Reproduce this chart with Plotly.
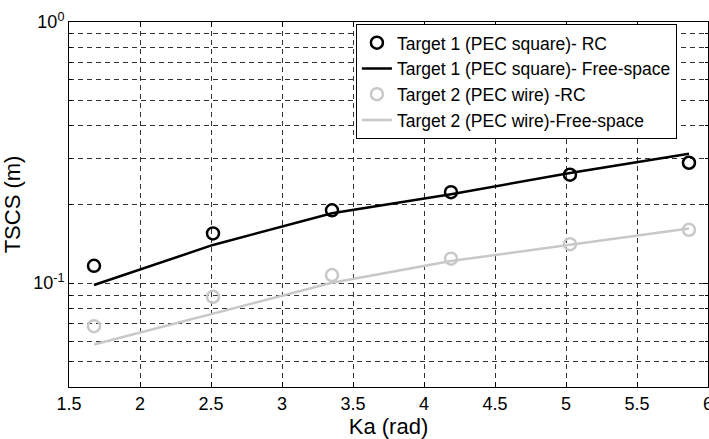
import plotly.graph_objects as go

ka = [1.676, 2.514, 3.352, 4.19, 5.028, 5.866]
t1_rc = [0.1165, 0.155, 0.190, 0.223, 0.260, 0.289]
t1_fs = [0.0983, 0.140, 0.185, 0.219, 0.264, 0.313]
t2_rc = [0.0684, 0.0886, 0.1073, 0.124, 0.141, 0.160]
t2_fs = [0.0582, 0.0765, 0.1003, 0.1214, 0.140, 0.162]

names = ["Target 1 (PEC square)- RC", "Target 1 (PEC square)- Free-space",
         "Target 2 (PEC wire) -RC", "Target 2 (PEC wire)-Free-space"]

x_ticks = [1.5, 2, 2.5, 3, 3.5, 4, 4.5, 5, 5.5, 6]
y_ticks = [0.1, 1.0]
y_text = ["10<sup>-1</sup>", "10<sup>0</sup>"]
y_minor = [0.05, 0.06, 0.07, 0.08, 0.09, 0.2, 0.3, 0.4, 0.5, 0.6, 0.7, 0.8, 0.9]

BLACK = "#000000"
GRAY = "#c8c8c8"
GRID = "#333333"
FONT = "Liberation Sans, Arial, sans-serif"

fig = go.Figure()
fig.add_trace(go.Scatter(x=ka, y=t1_rc, mode="markers", name=names[0],
                         marker=dict(symbol="circle-open", size=12, color=BLACK, line=dict(width=2.5, color=BLACK))))
fig.add_trace(go.Scatter(x=ka, y=t1_fs, mode="lines", name=names[1],
                         line=dict(color=BLACK, width=2.5)))
fig.add_trace(go.Scatter(x=ka, y=t2_rc, mode="markers", name=names[2],
                         marker=dict(symbol="circle-open", size=12, color=GRAY, line=dict(width=2.5, color=GRAY))))
fig.add_trace(go.Scatter(x=ka, y=t2_fs, mode="lines", name=names[3],
                         line=dict(color=GRAY, width=2.5)))

grid = dict(showgrid=True, gridcolor=GRID, gridwidth=1, griddash="5px,4px")

fig.update_xaxes(range=[1.5, 6], tickmode="array", tickvals=x_ticks,
                 ticktext=[("%g" % v) for v in x_ticks],
                 ticks="inside", ticklen=5, tickcolor=BLACK,
                 ticklabeloverflow="allow",
                 showline=True, linecolor=BLACK, linewidth=1, mirror="ticks",
                 zeroline=False, title=dict(text="Ka (rad)", standoff=6),
                 **grid)
fig.update_yaxes(type="log", range=[-1.398, 0], tickmode="array", tickvals=y_ticks,
                 ticktext=y_text, ticks="inside", ticklen=5, tickcolor=BLACK,
                 showline=True, linecolor=BLACK, linewidth=1, mirror="ticks",
                 zeroline=False, title=dict(text="TSCS (m)", standoff=6),
                 minor=dict(tickmode="array", tickvals=y_minor, ticks="inside", ticklen=3,
                            tickcolor=BLACK, showgrid=True, gridcolor=GRID, gridwidth=1,
                            griddash="5px,4px"),
                 **grid)

fig.update_layout(
    width=709, height=439,
    margin=dict(l=69, r=1, t=22, b=52, autoexpand=False),
    paper_bgcolor="white", plot_bgcolor="white",
    font=dict(family=FONT, size=18, color=BLACK),
    showlegend=True,
    legend=dict(x=0.449, y=0.995, xanchor="left", yanchor="top",
                bgcolor="white", bordercolor=BLACK, borderwidth=1,
                font=dict(family=FONT, size=17.5, color=BLACK),
                tracegroupgap=0, itemwidth=30),
)

fig.write_html("out.html", config={"displayModeBar": False},
               post_script="document.body.style.margin='0';document.body.style.overflow='hidden';")
